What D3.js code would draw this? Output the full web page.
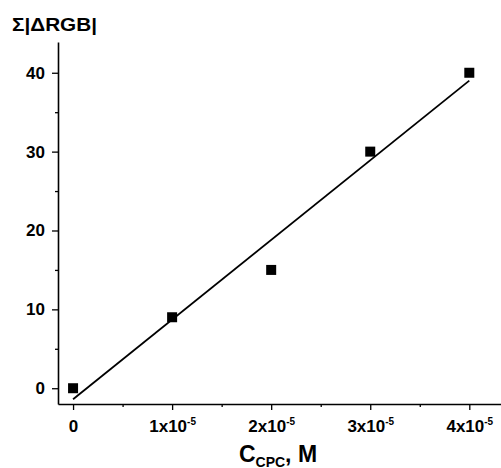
<!DOCTYPE html>
<html>
<head>
    <meta charset="utf-8">
    <script src="https://d3js.org/d3.v7.min.js"></script>
    <style>
        body { margin: 0; background: #fff; font-family: 'Liberation Sans', Arial, sans-serif; }
        .tick text { font-weight: bold; }
    </style>
</head>
<body>
    <svg width="501" height="468"></svg>
    <script>
        // data
        var concentrations = [0, 1e-5, 2e-5, 3e-5, 4e-5];
        var deltaRGB = [0, 9, 15, 30, 40];
        var xMajorTicks = [0, 1e-5, 2e-5, 3e-5, 4e-5];
        var xMinorTicks = [0.5e-5, 1.5e-5, 2.5e-5, 3.5e-5];
        var yMajorTicks = [0, 10, 20, 30, 40];
        var yMinorTicks = [5, 15, 25, 35];

        var svg = d3.select("svg");
        var plotLeft = 58, plotRight = 501, plotTop = 42, plotBottom = 404;

        var x = d3.scaleLinear().domain([-0.152e-5, 4.32e-5]).range([plotLeft, plotRight]);
        var y = d3.scaleLinear().domain([-2.0, 43.9]).range([plotBottom, plotTop]);

        // minor ticks first
        svg.append("g")
            .attr("transform", "translate(0," + plotBottom + ")")
            .call(d3.axisBottom(x).tickValues(xMinorTicks).tickSize(3).tickFormat(""))
            .call(g => g.select(".domain").remove())
            .selectAll("line").attr("stroke-width", 1.3);
        svg.append("g")
            .attr("transform", "translate(" + plotLeft + ",0)")
            .call(d3.axisLeft(y).tickValues(yMinorTicks).tickSize(3).tickFormat(""))
            .call(g => g.select(".domain").remove())
            .selectAll("line").attr("stroke-width", 1.3);

        // x axis
        var xAxis = svg.append("g")
            .attr("transform", "translate(0," + plotBottom + ")")
            .call(d3.axisBottom(x).tickValues(xMajorTicks).tickSize(6).tickSizeOuter(0).tickFormat(""));
        xAxis.select(".domain").attr("stroke-width", 1.6);
        xAxis.selectAll(".tick line").attr("stroke-width", 1.3);
        xAxis.selectAll(".tick").each(function (d) {
            var t = d3.select(this).append("text")
                .attr("y", 28)
                .attr("fill", "#000")
                .attr("text-anchor", "middle")
                .style("font-size", "17px")
                .style("font-weight", "bold");
            if (d === 0) {
                t.text("0");
            } else {
                var m = Math.round(d / 1e-5);
                t.append("tspan").text(m + "x10");
                t.append("tspan").attr("dy", -7).style("font-size", "10px").text("-5");
            }
        });

        // y axis
        var yAxis = svg.append("g")
            .attr("transform", "translate(" + plotLeft + ",0)")
            .call(d3.axisLeft(y).tickValues(yMajorTicks).tickSize(6).tickSizeOuter(0).tickPadding(7));
        yAxis.select(".domain").attr("stroke-width", 1.6);
        yAxis.selectAll(".tick line").attr("stroke-width", 1.3);
        yAxis.selectAll(".tick text")
            .style("font-size", "17px")
            .style("font-family", "'Liberation Sans', Arial, sans-serif");

        // linear fit from the points
        var n = concentrations.length;
        var mx = d3.mean(concentrations), my = d3.mean(deltaRGB);
        var sxy = 0, sxx = 0;
        for (var i = 0; i < n; i++) {
            sxy += (concentrations[i] - mx) * (deltaRGB[i] - my);
            sxx += (concentrations[i] - mx) * (concentrations[i] - mx);
        }
        var slope = sxy / sxx, intercept = my - slope * mx;
        var fitX = [d3.min(concentrations), d3.max(concentrations)];

        svg.append("path")
            .datum(fitX)
            .attr("fill", "none")
            .attr("stroke", "#000")
            .attr("stroke-width", 1.8)
            .attr("d", d3.line().x(d => x(d)).y(d => y(intercept + slope * d)));

        // points
        var sq = 10;
        svg.append("g")
            .selectAll("rect")
            .data(concentrations)
            .enter().append("rect")
            .attr("x", d => x(d) - sq / 2)
            .attr("y", (d, i) => y(deltaRGB[i]) - sq / 2)
            .attr("width", sq)
            .attr("height", sq)
            .attr("fill", "#000");

        // titles
        svg.append("text")
            .attr("x", 12)
            .attr("y", 31)
            .attr("textLength", 85)
            .attr("lengthAdjust", "spacingAndGlyphs")
            .style("font-size", "19px")
            .style("font-weight", "bold")
            .text("Σ|ΔRGB|");

        var xl = svg.append("text")
            .attr("x", 278)
            .attr("y", 462)
            .attr("text-anchor", "middle")
            .style("font-size", "23px")
            .style("font-weight", "bold");
        xl.append("tspan").text("C");
        xl.append("tspan").attr("dy", 5).style("font-size", "14px").text("CPC");
        xl.append("tspan").attr("dy", -5).text(", M");
    </script>
</body>
</html>
